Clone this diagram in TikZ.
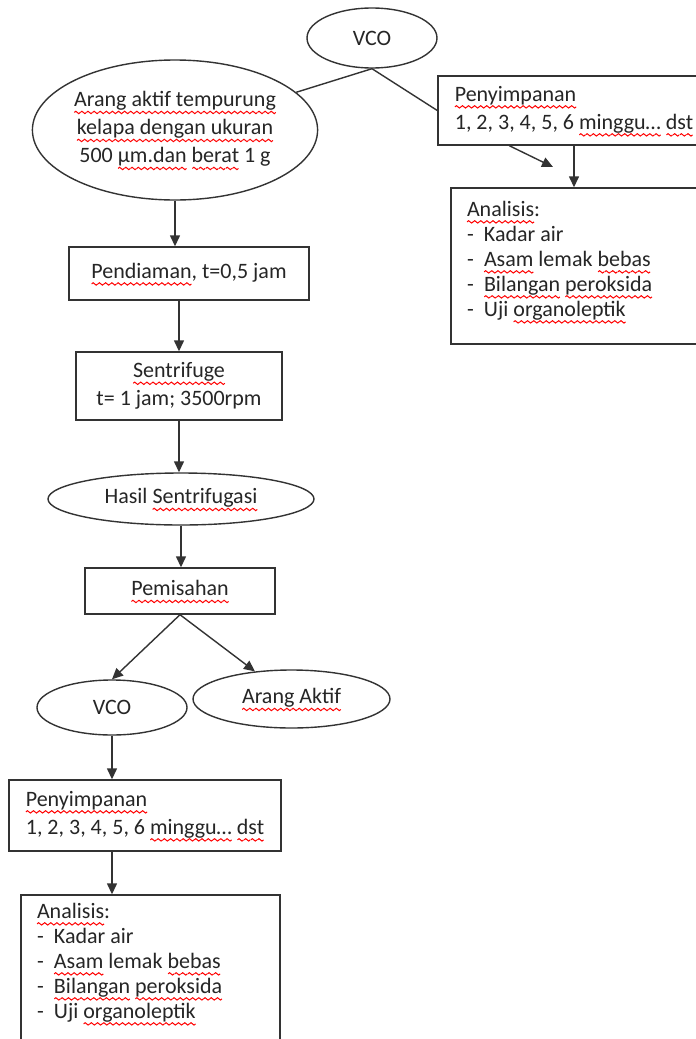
\documentclass[tikz,border=0pt]{standalone}
\usepackage{fontspec}
\setmainfont{Carlito}
\usetikzlibrary{arrows.meta,shapes}
\newsavebox\golombang
\newcommand\spell[1]{\setbox0=\hbox{#1}\rlap{\lower2.8pt\hbox to\wd0{\xleaders\copy\golombang\hfil}}\box0\relax}
\newcommand\butir[1]{\makebox[8.5pt][l]{-}#1}
\tikzset{oval/.style={ellipse,draw,inner sep=0pt,text=black!85,align=center},
         kotak/.style={rectangle,draw,inner sep=0pt,text=black!85,align=center},
         daftar/.style={inner sep=0pt,text=black!85,align=left,font=\fontsize{11pt}{12.5pt}\selectfont}}

\begin{document}
\sbox\golombang{\pgfpicture
	\pgfsetlinewidth{0.5pt}\pgfsetstrokecolor{red}
	\pgfpathmoveto{\pgfpoint{0pt}{0pt}}
	\pgfpathsine{\pgfpoint{0.75pt}{0.6pt}}\pgfpathcosine{\pgfpoint{0.75pt}{-0.6pt}}
	\pgfpathsine{\pgfpoint{0.75pt}{-0.6pt}}\pgfpathcosine{\pgfpoint{0.75pt}{0.6pt}}
	\pgfusepath{stroke}
	\pgfresetboundingbox
	\pgfpathrectangle{\pgfpoint{0pt}{0pt}}{\pgfpoint{3pt}{0pt}}
	\pgfusepath{use as bounding box}
	\endpgfpicture}%
\begin{tikzpicture}[x=0.5pt,y=-0.5pt,black!80,line width=0.7pt,>={Triangle[length=5.5pt,width=5pt]},
	every node/.append style={font=\fontsize{11pt}{14pt}\selectfont}]

	\useasboundingbox[fill=white] (0,0) rectangle (696,1039);

	% right branch
	\node [oval,minimum width=65pt,minimum height=30pt] (vco1) at (372,38) {VCO};
	\node [kotak,align=left,minimum width=136pt,minimum height=34.5pt] (simpan1) at (574,110.5)
		{\spell{Penyimpanan}\\1, 2, 3, 4, 5, 6 \spell{minggu…} \spell{dst}};
	\node [kotak,minimum width=129.5pt,minimum height=78pt] (analisis1) at (580.5,266) {};
	\node [daftar,anchor=north west] (analisis1t) at ([xshift=8pt,yshift=-6.5pt]analisis1.north west)
		{\spell{Analisis}:\\\butir{Kadar air}\\\butir{\spell{Asam} lemak \spell{bebas}}\\
		 \butir{\spell{Bilangan} \spell{peroksida}}\\\butir{Uji \spell{organoleptik}}};
	\coordinate (ujung1) at (553,167);

	% main chain
	\node [oval,minimum width=142pt,minimum height=70pt] (arang) at (175,130)
		{\spell{Arang aktif tempurung}\\\spell{kelapa dengan ukuran}\\500 \spell{μm.dan} \spell{berat} 1 g};
	\node [kotak,minimum width=120pt,minimum height=26.5pt] (diam) at (189,273.5) {\spell{Pendiaman}, t=0,5 jam};
	\node [kotak,minimum width=103pt,minimum height=34pt] (sentri) at (179,386) {\spell{Sentrifuge}\\t= 1 jam; 3500rpm};
	\node [oval,minimum width=133pt,minimum height=26pt] (hasil) at (181,499) {Hasil \spell{Sentrifugasi}};
	\node [kotak,minimum width=95pt,minimum height=23pt] (pisah) at (180,591) {\spell{Pemisahan}};
	\node [oval,minimum width=75pt,minimum height=27.5pt] (vco2) at (112,707.5) {VCO};
	\node [oval,minimum width=98.5pt,minimum height=29pt] (arang2) at (291.5,699) {\spell{Arang Aktif}};
	\node [kotak,align=left,minimum width=136pt,minimum height=35.5pt] (simpan2) at (145,815.5)
		{\spell{Penyimpanan}\\1, 2, 3, 4, 5, 6 \spell{minggu…} \spell{dst}};
	\node [kotak,minimum width=129.5pt,minimum height=78pt] (analisis2) at (150.5,973) {};
	\node [daftar,anchor=north west] (analisis2t) at ([xshift=8pt,yshift=-4pt]analisis2.north west)
		{\spell{Analisis}:\\\butir{Kadar air}\\\butir{\spell{Asam} lemak \spell{bebas}}\\
		 \butir{\spell{Bilangan} \spell{peroksida}}\\\butir{Uji \spell{organoleptik}}};

	\path
	(vco1.south) edge (arang)
	(vco1.south) edge (simpan1.west)
	([xshift=36pt]simpan1.south west) edge[->] (ujung1)
	(simpan1.south) edge[->] (simpan1.south |- analisis1.north)

	(arang.south) edge[->] (arang.south |- diam.north)
	(sentri.north |- diam.south) edge[->] (sentri.north)
	(sentri.south) edge[->] (sentri.south |- hasil.north)
	(hasil.south) edge[->] (hasil.south |- pisah.north)
	(pisah.south) edge[->] (vco2.north)
	(pisah.south) edge[->] (arang2)
	(vco2.south) edge[->] (vco2.south |- simpan2.north)
	(vco2.south |- simpan2.south) edge[->] (vco2.south |- analisis2.north)
	;
\end{tikzpicture}
\end{document}
